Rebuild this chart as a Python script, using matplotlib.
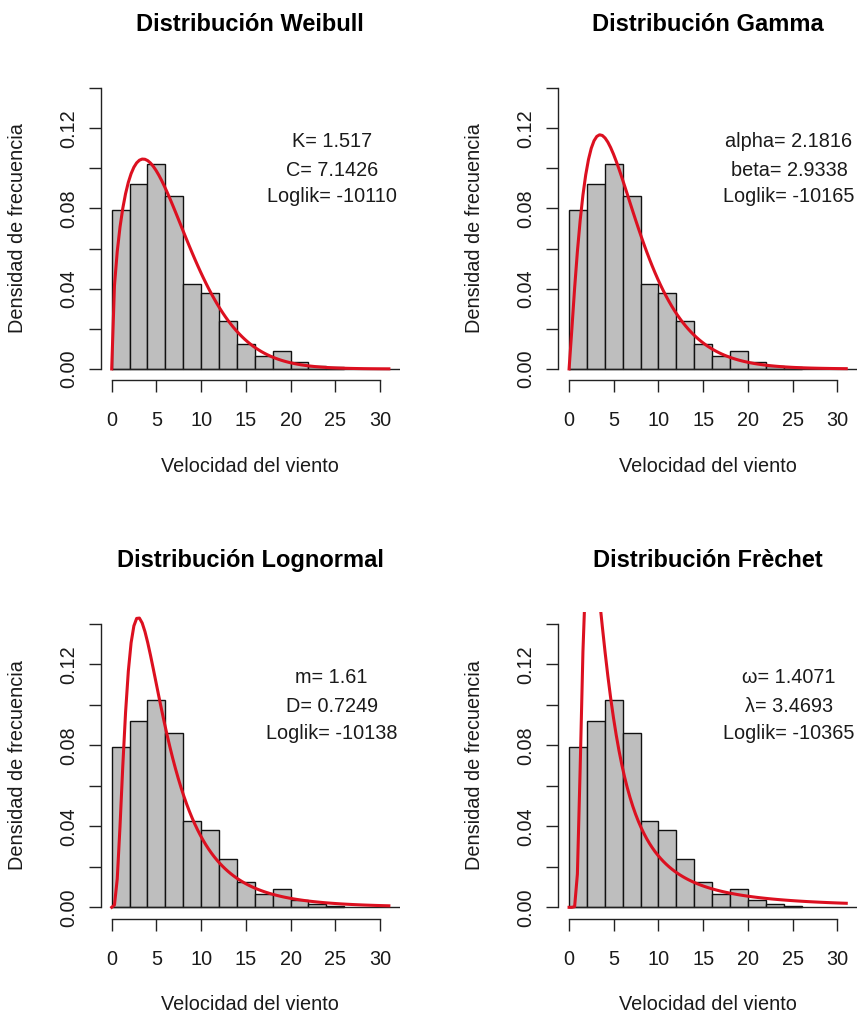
"""Histograma de velocidad del viento con cuatro ajustes de distribución."""

import math
import numpy as np
import matplotlib
matplotlib.use("Agg")
import matplotlib.pyplot as plt

plt.rcParams["font.family"] = ["Liberation Sans", "DejaVu Sans"]

# Histogram (density) of wind speed, bins of width 2
bin_edges = [0, 2, 4, 6, 8, 10, 12, 14, 16, 18, 20, 22, 24, 26]
densidad = [0.0793, 0.0921, 0.1022, 0.0861, 0.0424, 0.0381, 0.0238,
            0.0126, 0.0064, 0.0089, 0.0037, 0.0015, 0.0008]

# Fitted parameters shown in each panel
weibull_k, weibull_c = 1.517, 7.1426
gamma_alpha, gamma_beta = 2.1816, 2.9338
lnorm_m, lnorm_d = 1.61, 0.7249
frechet_w, frechet_l = 1.4071, 3.4693
loglik = [-10110, -10165, -10138, -10365]

titles = ["Distribución Weibull", "Distribución Gamma",
          "Distribución Lognormal", "Distribución Frèchet"]
param_text = [
    [f"K= {weibull_k}", f"C= {weibull_c}"],
    [f"alpha= {gamma_alpha}", f"beta= {gamma_beta}"],
    [f"m= {lnorm_m}", f"D= {lnorm_d}"],
    [f"ω= {frechet_w}", f"λ= {frechet_l}"],
]

x_tick_vals = [0, 5, 10, 15, 20, 25, 30]
y_tick_vals = [0.0, 0.02, 0.04, 0.06, 0.08, 0.10, 0.12, 0.14]
y_tick_labels = ["0.00", "", "0.04", "", "0.08", "", "0.12", ""]


def pdf_weibull(x, k, c):
    return (k / c) * (x / c) ** (k - 1) * np.exp(-(x / c) ** k)


def pdf_gamma(x, a, b):
    return x ** (a - 1) * np.exp(-x / b) / (math.gamma(a) * b ** a)


def pdf_lnorm(x, m, s):
    out = np.zeros_like(x)
    pos = x > 0
    xp = x[pos]
    out[pos] = np.exp(-(np.log(xp) - m) ** 2 / (2 * s ** 2)) / (xp * s * np.sqrt(2 * np.pi))
    return out


def pdf_frechet(x, w, l):
    out = np.zeros_like(x)
    pos = x > 0
    z = x[pos] / l
    out[pos] = (w / l) * z ** (-1 - w) * np.exp(-z ** (-w))
    return out


FIG_W, FIG_H, DPI = 8.57, 10.17, 100
fig = plt.figure(figsize=(FIG_W, FIG_H), dpi=DPI)

# axes rectangles [left, bottom, width, height] in figure fractions
rects = [
    [0.1174, 0.6262, 0.3493, 0.2982],
    [0.6511, 0.6262, 0.3493, 0.2982],
    [0.1174, 0.0967, 0.3493, 0.3012],
    [0.6511, 0.0967, 0.3493, 0.3012],
]

xs = np.linspace(0, 31, 101)
curves = [
    pdf_weibull(xs, weibull_k, weibull_c),
    pdf_gamma(xs, gamma_alpha, gamma_beta),
    pdf_lnorm(xs, lnorm_m, lnorm_d),
    pdf_frechet(xs, frechet_w, frechet_l),
]

TXT = "#1a1a1a"
FS = 14.3
edges = np.array(bin_edges)
xlo, xhi = 0 - 31 * 0.04, 31 + 31 * 0.04
ylo, yhi = 0 - 0.14 * 0.04, 0.14 + 0.14 * 0.04

for i, rect in enumerate(rects):
    ax = fig.add_axes(rect)
    w_px = rect[2] * FIG_W * DPI
    h_px = rect[3] * FIG_H * DPI

    ax.bar(edges[:-1], densidad, width=np.diff(edges), align="edge",
           color="#bebebe", edgecolor="#111111", linewidth=1.0, zorder=2)
    ax.axhline(0, xmin=(0 - xlo) / (xhi - xlo), xmax=1, color="#222222",
               linewidth=1.0, zorder=3)
    ax.plot(xs, curves[i], color="#dc1020", linewidth=2.2, zorder=4)

    ax.set_xlim(xlo, xhi)
    ax.set_ylim(ylo, yhi)

    for s in ["top", "right"]:
        ax.spines[s].set_visible(False)
    ax.spines["left"].set_bounds(0, 0.14)
    ax.spines["bottom"].set_bounds(0, 30)
    for s in ["left", "bottom"]:
        ax.spines[s].set_color("#222222")
        ax.spines[s].set_linewidth(1.0)

    ax.set_xticks(x_tick_vals)
    ax.set_xticklabels([str(v) for v in x_tick_vals])
    ax.set_yticks(y_tick_vals)
    ax.set_yticklabels(y_tick_labels, rotation=90, va="center")
    ax.tick_params(axis="both", direction="out", length=8.3, width=1.0,
                   color="#222222", labelcolor=TXT, labelsize=FS)
    ax.tick_params(axis="x", pad=14)
    ax.tick_params(axis="y", pad=8)

    ax.set_xlabel("Velocidad del viento", fontsize=FS, color=TXT)
    ax.xaxis.set_label_coords(0.5, -86 / h_px)
    ax.xaxis.label.set_va("center")
    ax.set_ylabel("Densidad de frecuencia", fontsize=FS, color=TXT)
    ax.yaxis.set_label_coords(-83 / w_px, 0.5)
    ax.yaxis.label.set_va("center")

    ax.text(0.5, 1 + 52 / h_px, titles[i], transform=ax.transAxes,
            ha="center", va="center", fontsize=17, fontweight="bold", color="black")

    lines = param_text[i] + [f"Loglik= {loglik[i]}"]
    for txt, yy in zip(lines, [0.1135, 0.0990, 0.0860]):
        ax.text(24.6, yy, txt, ha="center", va="center", fontsize=FS, color=TXT)

fig.savefig("out.png", dpi=DPI)
